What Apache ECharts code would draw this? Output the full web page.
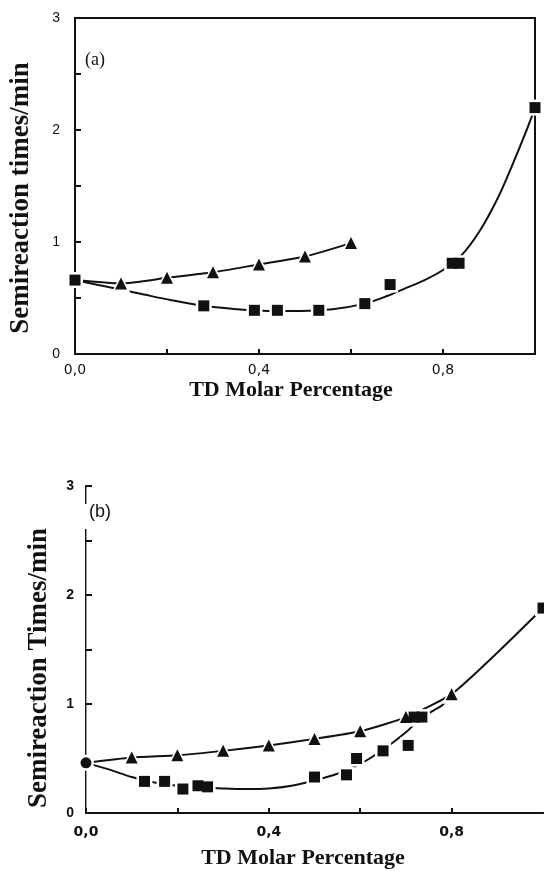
<!DOCTYPE html>
<html>
<head>
<meta charset="utf-8">
<script src="https://cdn.jsdelivr.net/npm/echarts@6/dist/echarts.min.js"></script>
<style>
html,body{margin:0;padding:0;background:#fff;}
#chart{width:544px;height:871px;}
</style>
</head>
<body>
<div id="chart"></div>
<script>
// ---------- Data ----------
// Panel (a)
const aTriX = [0.1, 0.2, 0.3, 0.4, 0.5, 0.6];
const aTriY = [0.63, 0.68, 0.73, 0.80, 0.87, 0.99];
const aSqX = [0, 0.28, 0.39, 0.44, 0.53, 0.63, 0.685, 0.82, 0.835, 1.0];
const aSqY = [0.66, 0.43, 0.39, 0.39, 0.39, 0.45, 0.62, 0.81, 0.81, 2.20];
const aFitX = [0, 0.07, 0.14, 0.21, 0.28, 0.35, 0.42, 0.49, 0.56, 0.63, 0.68, 0.72, 0.76, 0.80, 0.84, 0.88, 0.92, 0.95, 0.98, 1.0];
const aFitY = [0.66, 0.60, 0.54, 0.48, 0.43, 0.40, 0.385, 0.385, 0.40, 0.45, 0.52, 0.59, 0.66, 0.75, 0.88, 1.10, 1.40, 1.68, 1.98, 2.20];

// Panel (b)
const bTriX = [0.1, 0.2, 0.3, 0.4, 0.5, 0.6, 0.7, 0.8];
const bTriY = [0.51, 0.53, 0.57, 0.62, 0.68, 0.75, 0.88, 1.09];
const bTriTailX = [0.9, 1.0];
const bTriTailY = [1.47, 1.88];
const bSqX = [0, 0.128, 0.172, 0.212, 0.245, 0.266, 0.5, 0.57, 0.592, 0.65, 0.705, 0.718, 0.735, 1.0];
const bSqY = [0.46, 0.29, 0.29, 0.22, 0.25, 0.24, 0.33, 0.35, 0.50, 0.57, 0.62, 0.88, 0.88, 1.88];
const bFitX = [0, 0.05, 0.1, 0.15, 0.2, 0.25, 0.3, 0.35, 0.4, 0.45, 0.5, 0.55, 0.6, 0.65, 0.7, 0.73, 0.76, 0.78, 0.8];
const bFitY = [0.46, 0.40, 0.33, 0.28, 0.25, 0.235, 0.225, 0.22, 0.225, 0.25, 0.30, 0.36, 0.45, 0.58, 0.74, 0.86, 0.94, 0.99, 1.09];

// Tick labels
const xTickValues = [0, 0.4, 0.8];
const xTickLabels = ['0,0', '0,4', '0,8'];
const yTickValues = [0, 1, 2, 3];
const yTickLabels = ['0', '1', '2', '3'];

const xTitle = 'TD Molar Percentage';
const yTitleA = 'Semireaction times/min';
const yTitleB = 'Semireaction Times/min';

// ---------- Helpers ----------
const pairs = (xs, ys) => xs.map((x, i) => [x, ys[i]]);
const near = (a, b) => Math.abs(a - b) < 1e-6;
const xFmt = v => { const i = xTickValues.findIndex(t => near(t, v)); return i >= 0 ? xTickLabels[i] : ''; };
const yFmt = v => { const i = yTickValues.findIndex(t => near(t, v)); return i >= 0 ? yTickLabels[i] : ''; };

const black = '#111';
const serif = '"Liberation Serif", "Times New Roman", serif';
const sans = '"Liberation Sans", Arial, sans-serif';
const wideSans = '"DejaVu Sans", Verdana, sans-serif';

function xAxisFor(gi, bold, margin) {
  return {
    type: 'value', gridIndex: gi, min: 0, max: 1, interval: 0.2,
    axisLine: { show: true, lineStyle: { color: black, width: 2 } },
    axisTick: { show: true, inside: true, length: 5, lineStyle: { color: black, width: 2 } },
    axisLabel: { formatter: xFmt, color: black, fontFamily: wideSans, fontSize: 14, fontWeight: bold ? 'bold' : 'normal', margin: margin, showMaxLabel: false },
    splitLine: { show: false }
  };
}
function yAxisFor(gi, bold, margin) {
  return {
    type: 'value', gridIndex: gi, min: 0, max: 3, interval: 0.5,
    axisLine: { show: true, lineStyle: { color: black, width: 2 } },
    axisTick: { show: true, inside: true, length: 6, lineStyle: { color: black, width: 2 } },
    axisLabel: { formatter: yFmt, color: black, fontFamily: sans, fontSize: 14, fontWeight: bold ? 'bold' : 'normal', margin: margin },
    splitLine: { show: false }
  };
}

function lineSeries(gi, data, smooth) {
  return {
    type: 'line', xAxisIndex: gi, yAxisIndex: gi, data: data,
    smooth: smooth, showSymbol: false, symbol: 'none', clip: false,
    lineStyle: { color: black, width: 2 }, z: 2, silent: true
  };
}
function markerSeries(gi, data, symbol, size, color, z) {
  return {
    type: 'scatter', xAxisIndex: gi, yAxisIndex: gi, data: data,
    symbol: symbol, symbolSize: size, clip: false,
    itemStyle: { color: color, opacity: 1 }, z: z, silent: true
  };
}

const aTri = pairs(aTriX, aTriY);
const aSq = pairs(aSqX, aSqY);
const aTriLine = [[aSqX[0], aSqY[0]]].concat(aTri);
const bTri = pairs(bTriX, bTriY);
const bSq = pairs(bSqX, bSqY);
const bTriLine = [[bSqX[0], bSqY[0]]].concat(bTri, pairs(bTriTailX, bTriTailY));
const bSym = v => (near(v[0], 0) ? 'circle' : 'rect');

const titleFont = 'bold 22px ' + serif;
const yTitleFont = 'bold 27px ' + serif;

const option = {
  animation: false,
  backgroundColor: '#fff',
  grid: [
    { left: 75, top: 18, width: 460, height: 336, show: true, borderColor: black, borderWidth: 2,
      backgroundColor: 'transparent', containLabel: false, outerBoundsMode: 'none' },
    { left: 86, top: 486, width: 457, height: 327, show: false, containLabel: false, outerBoundsMode: 'none' }
  ],
  xAxis: [
    xAxisFor(0, false, 9),
    xAxisFor(1, true, 12),
    // top border of panel (b)
    { type: 'value', gridIndex: 1, position: 'top', min: 0, max: 1,
      axisLine: { show: true, lineStyle: { color: black, width: 2 } },
      axisTick: { show: false }, axisLabel: { show: false }, splitLine: { show: false } }
  ],
  yAxis: [
    yAxisFor(0, false, 15),
    yAxisFor(1, true, 12),
    // faint right border of panel (b)
    { type: 'value', gridIndex: 1, position: 'right', min: 0, max: 3,
      axisLine: { show: true, lineStyle: { color: '#bbb', width: 1, type: 'dotted' } },
      axisTick: { show: false }, axisLabel: { show: false }, splitLine: { show: false } }
  ],
  series: [
    // Panel (a)
    lineSeries(0, pairs(aFitX, aFitY), 0.35),
    lineSeries(0, aTriLine, 0.2),
    markerSeries(0, aTri, 'triangle', 19, '#fff', 3),
    markerSeries(0, aSq, 'rect', 16, '#fff', 3),
    markerSeries(0, aTri, 'triangle', 12, black, 4),
    markerSeries(0, aSq, 'rect', 11, black, 4),
    // Panel (b)
    lineSeries(1, pairs(bFitX, bFitY), 0.35),
    lineSeries(1, bTriLine, 0.2),
    markerSeries(1, bTri, 'triangle', 19, '#fff', 3),
    markerSeries(1, bSq, bSym, 16, '#fff', 3),
    markerSeries(1, bTri, 'triangle', 12, black, 4),
    markerSeries(1, bSq, bSym, 11, black, 4)
  ],
  graphic: [
    { type: 'text', left: 85, top: 51, z: 10,
      style: { text: '(a)', font: '18px ' + serif, fill: black } },
    { type: 'rect', left: 82, top: 504, z: 10,
      shape: { width: 7, height: 25 }, style: { fill: '#fff' } },
    { type: 'text', left: 89, top: 503, z: 11,
      style: { text: '(b)', font: '18px ' + sans, fill: black } },
    // axis titles
    { type: 'text', x: 291, y: 390, z: 10,
      style: { text: xTitle, font: titleFont, fill: black, align: 'center', verticalAlign: 'middle' } },
    { type: 'text', x: 303, y: 858, z: 10,
      style: { text: xTitle, font: titleFont, fill: black, align: 'center', verticalAlign: 'middle' } },
    { type: 'text', x: 21, y: 198, rotation: Math.PI / 2, z: 10,
      style: { text: yTitleA, font: yTitleFont, fill: black, align: 'center', verticalAlign: 'middle' } },
    { type: 'text', x: 39, y: 668, rotation: Math.PI / 2, z: 10,
      style: { text: yTitleB, font: yTitleFont, fill: black, align: 'center', verticalAlign: 'middle' } }
  ]
};

const chart = echarts.init(document.getElementById('chart'), null, { renderer: 'canvas' });
chart.setOption(option);
</script>
</body>
</html>
